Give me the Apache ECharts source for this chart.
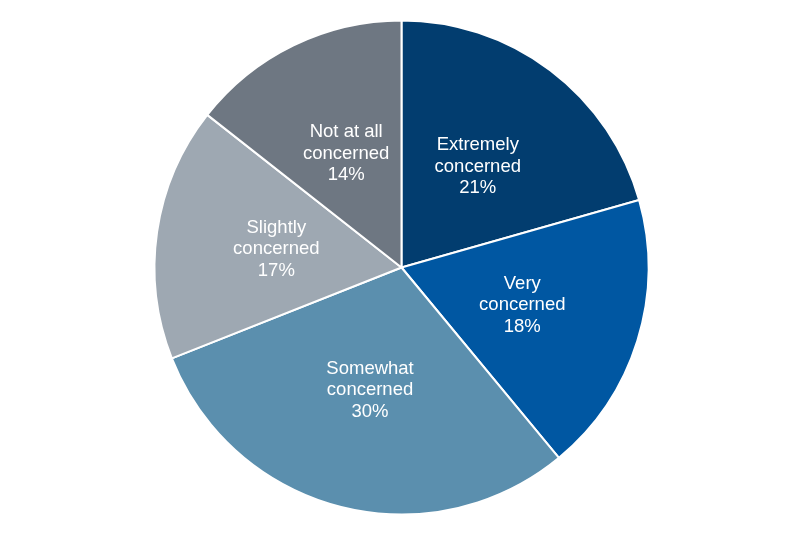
<!DOCTYPE html>
<html>
<head>
<meta charset="utf-8">
<script src="https://cdn.jsdelivr.net/npm/echarts@6/dist/echarts.min.js"></script>
<style>
  html, body { margin: 0; padding: 0; background: #fff; }
  #chart { width: 800px; height: 537px; }
</style>
</head>
<body>
<div id="chart"></div>
<script>
var categories = ['Extremely\nconcerned', 'Very\nconcerned', 'Somewhat\nconcerned', 'Slightly\nconcerned', 'Not at all\nconcerned'];
// slice sizes as read from the drawn wedges
var values = [20.6, 18.4, 30, 16.6, 14.4];
// percentages as printed on the chart
var percentLabels = ['21%', '18%', '30%', '17%', '14%'];
var colors = ['#023d6f', '#0057a2', '#5b8fae', '#9ea8b2', '#6e7782'];

var myChart = echarts.init(document.getElementById('chart'));

var option = {
    animation: false,
    color: colors,
    series: [
        {
            type: 'pie',
            center: [401.5, 267.5],
            radius: [0, 247],
            startAngle: 90,
            clockwise: true,
            avoidLabelOverlap: false,
            data: categories.map(function (c, i) {
                return { name: c, value: values[i] };
            }),
            itemStyle: { borderColor: '#fff', borderWidth: 2 },
            label: {
                show: true,
                position: 'inside',
                formatter: function (p) {
                    return p.name + '\n' + percentLabels[p.dataIndex];
                },
                color: '#fff',
                fontFamily: 'Liberation Sans, Arial, sans-serif',
                fontSize: 18.5,
                lineHeight: 21.5,
                align: 'center'
            },
            labelLine: { show: false },
            emphasis: { disabled: true }
        }
    ]
};

myChart.setOption(option);
window.addEventListener('resize', function () {
    myChart.resize();
});
</script>
</body>
</html>
